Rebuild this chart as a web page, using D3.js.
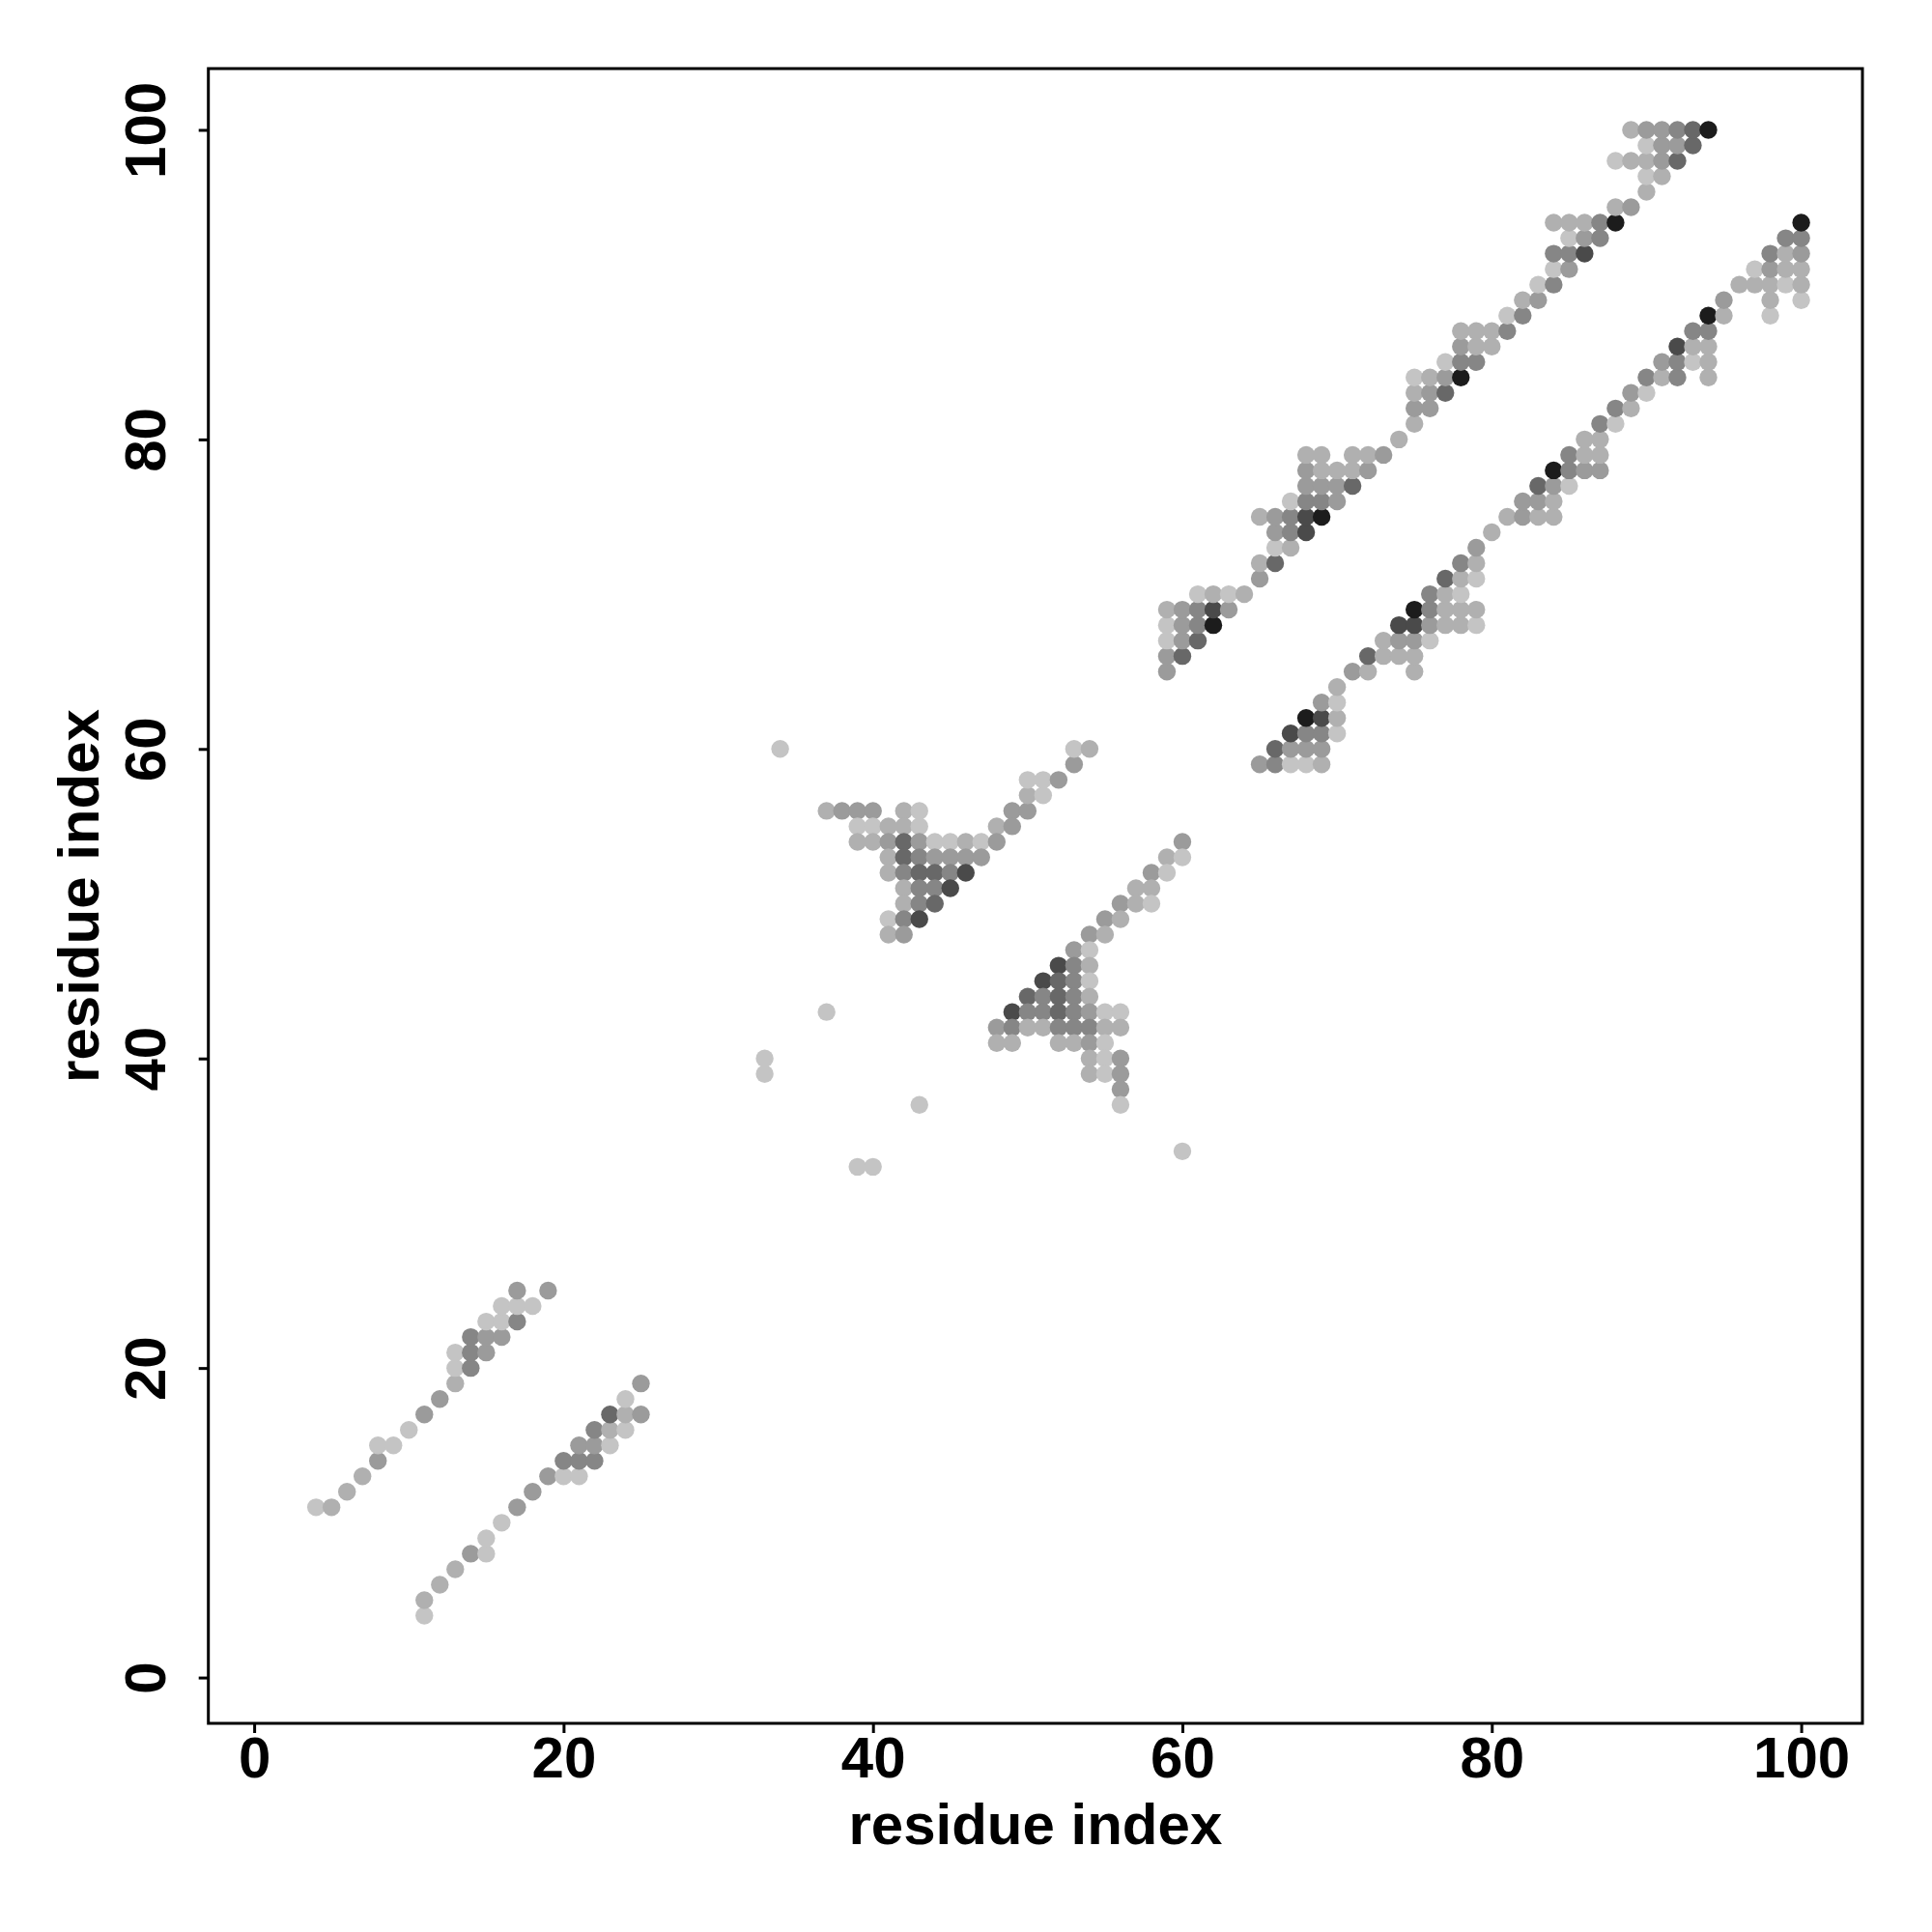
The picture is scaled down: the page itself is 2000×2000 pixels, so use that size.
<!DOCTYPE html>
<html><head><meta charset="utf-8">
<script src="https://cdn.jsdelivr.net/npm/d3@7"></script>
<style>body{margin:0;background:#fff}</style>
</head><body>
<svg id="chart" width="2000" height="2000"></svg>
<script>
// contact strength levels 1 (weak, light) .. 7 (strong, black); each entry [i, j, level]
const bandLowLeftUpper = [[4,11,1],[5,11,2],[6,12,2],[7,13,2],[8,14,3],[8,15,1],[9,15,1],[10,16,1],[11,17,3],[12,18,3],[13,19,2],[13,20,1],[13,21,1],[14,20,4],[14,21,4],[14,22,4],[15,21,3],[15,22,3],[15,23,1],[16,22,3],[16,23,1],[16,24,1],[17,23,4],[17,24,1],[17,25,3],[18,24,1],[19,25,3]];
const bandLowLeftLower = [[11,4,1],[11,5,2],[12,6,2],[13,7,2],[14,8,3],[15,8,1],[15,9,1],[16,10,1],[17,11,3],[18,12,3],[19,13,3],[20,13,1],[21,13,1],[20,14,4],[21,14,4],[22,14,4],[21,15,3],[22,15,3],[23,15,1],[22,16,4],[23,16,2],[24,16,1],[23,17,5],[24,17,2],[25,17,3],[24,18,1],[25,19,3]];
const sparse = [[33,39,1],[33,40,1],[34,60,1],[37,43,1],[39,33,1],[40,33,1],[43,37,1],[60,34,1]];
const clusterMidUpper = [[37,56,2],[38,56,3],[39,56,3],[40,56,3],[42,56,2],[43,56,1],[49,56,3],[50,56,3],
 [39,55,1],[40,55,1],[41,55,2],[42,55,2],[43,55,1],[48,55,2],[49,55,3],
 [39,54,2],[40,54,2],[41,54,3],[42,54,5],[43,54,3],[44,54,1],[45,54,1],[46,54,2],[47,54,1],[48,54,3],
 [41,53,2],[42,53,5],[43,53,4],[44,53,3],[45,53,3],[46,53,3],[47,53,3],
 [41,52,2],[42,52,4],[43,52,5],[44,52,5],[45,52,4],[46,52,6],
 [42,51,2],[43,51,4],[44,51,4],[45,51,6],
 [42,50,2],[43,50,4],[44,50,5],
 [41,49,1],[42,49,4],[43,49,6],
 [41,48,2],[42,48,3],
 [50,57,2],[51,57,1],[50,58,1],[51,58,1],[52,58,3],[53,59,3],[53,60,1],[54,60,2]];
const clusterMidLower = [[60,54,3],[59,53,2],[60,53,1],[58,52,3],[59,52,1],[57,51,2],[58,51,2],[56,50,3],[57,50,2],[58,50,1],[55,49,3],[56,49,2],[54,48,3],[55,48,2],[53,47,3],[54,47,1],[52,46,6],[53,46,4],[54,46,2],[51,45,6],[52,45,5],[53,45,4],[54,45,1],[50,44,5],[51,44,4],[52,44,5],[53,44,4],[54,44,2],[49,43,6],[50,43,4],[51,43,4],[52,43,5],[53,43,4],[54,43,3],[55,43,1],[56,43,1],[48,42,3],[49,42,4],[50,42,2],[51,42,2],[52,42,4],[53,42,4],[54,42,4],[55,42,2],[56,42,2],[48,41,2],[49,41,2],[52,41,2],[53,41,2],[54,41,3],[55,41,1],[54,40,2],[55,40,1],[56,40,3],[54,39,2],[55,39,1],[56,39,3],[56,38,3],[56,37,1]];
const bandUpper = [[59,65,3],[59,66,3],[60,66,5],[59,67,1],[60,67,3],[61,67,5],[59,68,1],[60,68,3],[61,68,4],[62,68,7],[59,69,2],[60,69,3],[61,69,4],[62,69,6],[63,69,3],[61,70,1],[62,70,2],[63,70,1],[64,70,2],[65,71,3],[65,72,2],[66,72,5],[66,73,1],[67,73,2],[66,74,3],[67,74,4],[68,74,6],[65,75,2],[66,75,3],[67,75,4],[68,75,6],[69,75,7],[67,76,1],[68,76,4],[69,76,4],[70,76,3],[68,77,3],[69,77,3],[70,77,3],[71,77,5],[68,78,3],[69,78,2],[70,78,2],[71,78,2],[72,78,3],[68,79,2],[69,79,2],[71,79,2],[72,79,2],[73,79,3],[74,80,2],[75,81,2],[75,82,3],[76,82,3],[75,83,2],[76,83,3],[77,83,5],[75,84,1],[76,84,2],[77,84,3],[78,84,7],[77,85,1],[78,85,4],[79,85,4],[78,86,3],[79,86,2],[80,86,2],[78,87,2],[79,87,2],[80,87,2],[81,87,4],[81,88,1],[82,88,4],[82,89,2],[83,89,3],[83,90,1],[84,90,4],[84,91,1],[85,91,3],[84,92,4],[85,92,4],[86,92,6],[85,93,1],[86,93,3],[87,93,4],[84,94,2],[85,94,2],[86,94,2],[87,94,4],[88,94,7],[88,95,2],[89,95,3],[90,96,2],[90,97,1],[91,97,2],[88,98,1],[89,98,2],[90,98,2],[91,98,3],[92,98,5],[90,99,1],[91,99,3],[92,99,3],[93,99,5],[89,100,2],[90,100,3],[91,100,3],[92,100,4],[93,100,5],[94,100,7]];
const bandLower = [[65,59,3],[66,59,4],[67,59,1],[68,59,1],[69,59,2],[66,60,5],[67,60,3],[68,60,3],[69,60,3],[67,61,6],[68,61,4],[69,61,4],[70,61,1],[68,62,7],[69,62,6],[70,62,2],[69,63,3],[70,63,1],[70,64,2],[71,65,3],[72,65,2],[75,65,2],[72,66,5],[73,66,2],[74,66,2],[75,66,2],[73,67,2],[74,67,3],[75,67,3],[76,67,1],[74,68,6],[75,68,6],[76,68,3],[77,68,2],[78,68,2],[79,68,1],[75,69,7],[76,69,4],[77,69,2],[78,69,2],[79,69,2],[76,70,4],[77,70,2],[78,70,1],[77,71,5],[78,71,2],[79,71,1],[78,72,4],[79,72,2],[79,73,3],[80,74,2],[81,75,2],[82,75,3],[83,75,2],[84,75,2],[82,76,3],[83,76,3],[84,76,2],[83,77,5],[84,77,3],[85,77,1],[84,78,7],[85,78,4],[86,78,3],[87,78,3],[85,79,4],[86,79,2],[87,79,2],[86,80,2],[87,80,2],[87,81,4],[88,81,1],[88,82,4],[89,82,2],[89,83,3],[90,83,1],[90,84,4],[91,84,2],[92,84,4],[94,84,2],[91,85,3],[92,85,4],[93,85,1],[94,85,2],[92,86,6],[93,86,2],[94,86,2],[93,87,4],[94,87,4],[94,88,7],[95,88,2],[98,88,1],[95,89,3],[98,89,2],[100,89,1],[96,90,2],[97,90,2],[98,90,2],[99,90,1],[100,90,2],[97,91,1],[98,91,3],[99,91,2],[100,91,2],[98,92,4],[99,92,2],[100,92,3],[99,93,4],[100,93,4],[100,94,7]];
const tickValues = [0,20,40,60,80,100];
const axisTitleX = "residue index";
const axisTitleY = "residue index";
const levelDomain = [1,2,3,4,5,6,7];
const levelGray = ["#c4c4c4","#b0b0b0","#9b9b9b","#868686","#686868","#4a4a4a","#1c1c1c"];

const svg = d3.select("#chart");
const L = 215.7, R = 1928, T = 71, B = 1784;
const x = d3.scaleLinear().domain([-2.96, 103.96]).range([L, R]);
const y = d3.scaleLinear().domain([-2.96, 103.96]).range([B, T]);
const color = d3.scaleOrdinal().domain(levelDomain).range(levelGray);

const all = [].concat(bandLowLeftUpper, bandLowLeftLower, sparse, clusterMidUpper, clusterMidLower, bandUpper, bandLower);

svg.append("g").selectAll("circle").data(all).join("circle")
  .attr("cx", d => x(d[0])).attr("cy", d => y(d[1])).attr("r", 9.2)
  .attr("fill", d => color(d[2]));

svg.append("rect").attr("x", L).attr("y", T).attr("width", R - L).attr("height", B - T)
  .attr("fill", "none").attr("stroke", "#000").attr("stroke-width", 3);

const font = "'Liberation Sans', Arial, Helvetica, sans-serif";
const xAxis = d3.axisBottom(x).tickValues(tickValues).tickSize(10).tickSizeOuter(0).tickPadding(0);
const gx = svg.append("g").attr("transform", `translate(0,${B})`).call(xAxis);
gx.select(".domain").remove();
gx.selectAll(".tick line").attr("stroke", "#000").attr("stroke-width", 3);
gx.selectAll(".tick text").attr("y", 56).attr("dy", 0).attr("font-family", font).attr("font-weight", "bold").attr("font-size", 60).attr("fill", "#000");

const yAxis = d3.axisLeft(y).tickValues(tickValues).tickSize(10).tickSizeOuter(0).tickPadding(0);
const gy = svg.append("g").attr("transform", `translate(${L},0)`).call(yAxis);
gy.select(".domain").remove();
gy.selectAll(".tick line").attr("stroke", "#000").attr("stroke-width", 3);
gy.selectAll(".tick text").attr("x", null).attr("dy", 0).attr("text-anchor", "middle")
  .attr("transform", `translate(${171 - L},0) rotate(-90)`)
  .attr("font-family", font).attr("font-weight", "bold").attr("font-size", 60).attr("fill", "#000");

svg.append("text").attr("x", (L + R) / 2).attr("y", 1909).attr("text-anchor", "middle")
  .attr("font-family", font).attr("font-weight", "bold").attr("font-size", 60).text(axisTitleX);
svg.append("text").attr("transform", `translate(102,${(T + B) / 2}) rotate(-90)`).attr("text-anchor", "middle")
  .attr("font-family", font).attr("font-weight", "bold").attr("font-size", 60).text(axisTitleY);
</script>
</body></html>
